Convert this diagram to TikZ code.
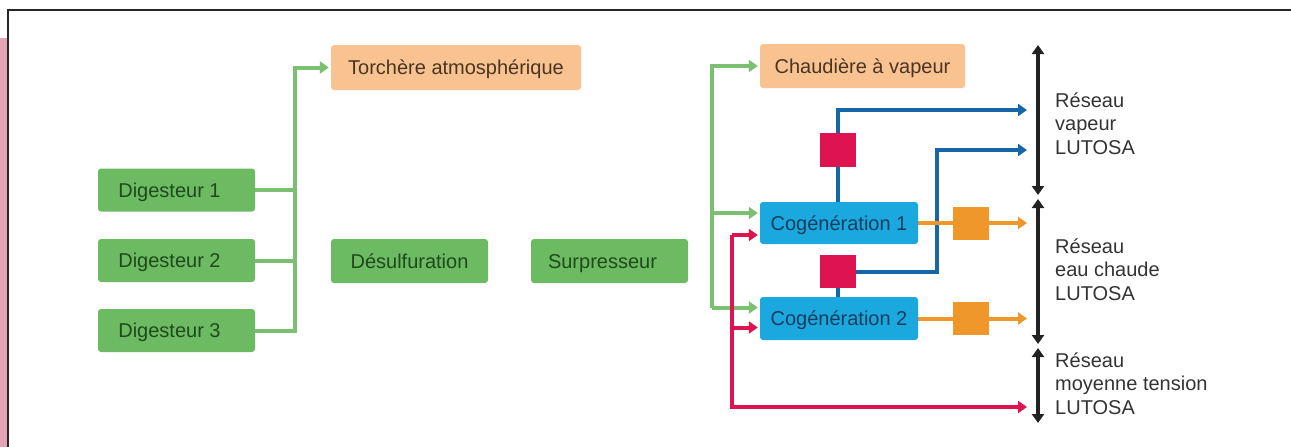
\documentclass[tikz,border=0pt]{standalone}
\usepackage{fontspec}
\setmainfont{Liberation Sans}
\usetikzlibrary{arrows.meta,backgrounds}
\definecolor{gfill}{HTML}{6CBA62}
\definecolor{gtext}{HTML}{1F4A1C}
\definecolor{ofill}{HTML}{F8C391}
\definecolor{otext}{HTML}{4A3422}
\definecolor{bfill}{HTML}{1BA8DF}
\definecolor{btext}{HTML}{123E5E}
\definecolor{glinec}{HTML}{7BBF70}
\definecolor{rlinec}{HTML}{DD1450}
\definecolor{blinec}{HTML}{1766A8}
\definecolor{olinec}{HTML}{F0972B}
\definecolor{pinkc}{HTML}{E2A6B4}
\definecolor{labc}{HTML}{333333}
\definecolor{kc}{HTML}{222222}
\tikzset{
  box/.style={rounded corners=3pt, minimum height=43pt, inner sep=0pt, text height=14.3pt, text depth=0pt, font=\fontsize{20}{24}\selectfont},
  gbox/.style={box, fill=gfill, text=gtext, minimum width=157pt},
  obox/.style={box, fill=ofill, text=otext},
  bbox/.style={box, fill=bfill, text=btext, minimum width=158pt},
  rsq/.style={fill=rlinec, minimum width=36pt, minimum height=34pt, inner sep=0pt},
  osq/.style={fill=olinec, minimum width=36pt, minimum height=33pt, inner sep=0pt},
  lab/.style={anchor=base west, inner sep=0pt, text=labc, font=\fontsize{20}{24}\selectfont},
  pipe/.style={line width=4pt},
  gpipe/.style={pipe, draw=glinec},
  rpipe/.style={pipe, draw=rlinec},
  bpipe/.style={pipe, draw=blinec},
  opipe/.style={pipe, draw=olinec},
  arr/.style={-{Triangle[length=9pt,width=12pt]}},
  kpipe/.style={line width=3.5pt, draw=kc, {Triangle[length=9pt,width=12pt]}-{Triangle[length=9pt,width=12pt]}}
}
\begin{document}
\begin{tikzpicture}[x=1pt,y=-1pt]
\useasboundingbox (0,0) rectangle (1291,447);
\fill[pinkc] (0,38) rectangle (6.5,447);
\draw[line width=2pt, color=black!85] (8,447) -- (8,10) -- (1291,10);

% boxes
\node[gbox] (d1) at (176.5,190) {Digesteur 1\kern14pt};
\node[gbox] (d2) at (176.5,260.5) {Digesteur 2\kern14pt};
\node[gbox] (d3) at (176.5,330.5) {Digesteur 3\kern14pt};
\node[obox, minimum width=250pt, minimum height=45pt] (torch) at (456,67.5) {Torchère atmosphérique};
\node[gbox, minimum height=44pt] (desulf) at (409.5,261) {Désulfuration};
\node[gbox, minimum height=44pt] (surp) at (609.5,261) {Surpresseur\kern14pt};
\node[obox, minimum width=205pt, minimum height=44pt] (chaud) at (862.5,66) {Chaudière à vapeur};
\node[bbox, minimum height=42pt] (cog1) at (839,223) {Cogénération 1};
\node[bbox] (cog2) at (839,318.5) {Cogénération 2};
\node[rsq] (sq1) at (838,150) {};
\node[rsq, minimum height=33pt] (sq2) at (838,271.5) {};
\node[osq] (osq1) at (971,223) {};
\node[osq] (osq2) at (971,318.5) {};

% coordinates
\coordinate (gx) at (295,0);
\coordinate (gx2) at (712,0);
\coordinate (rx) at (732,0);
\coordinate (bx) at (937,0);
\coordinate (oend) at (1027,0);
\coordinate (c1g) at ([yshift=10pt]cog1.west);
\coordinate (c2g) at ([yshift=11pt]cog2.west);
\coordinate (c1r) at ([yshift=-12pt]cog1.west);
\coordinate (c2r) at ([yshift=-9pt]cog2.west);
\coordinate (mtend) at (1027,407);
\coordinate (v1end) at (1027,110);
\coordinate (v2end) at (1027,150);
\coordinate (k1a) at (1038,45);
\coordinate (k1b) at (1038,195);
\coordinate (k2a) at (1038,199);
\coordinate (k2b) at (1038,344);
\coordinate (k3a) at (1038,348);
\coordinate (k3b) at (1038,423);

\begin{pgfonlayer}{background}
% green left
\draw[gpipe] (d1.east) -- (d1.east -| gx);
\draw[gpipe] (d2.east) -- (d2.east -| gx);
\draw[gpipe,arr] (d3.east) -- (d3.east -| gx) |- ([xshift=-2pt]torch.west);
% green right
\draw[gpipe,arr] (c2g -| gx2) |- ([xshift=-2pt]chaud.west);
\draw[gpipe,arr] (c2g -| gx2) -- ([xshift=-2pt]c2g);
\draw[gpipe,arr] (c1g -| gx2) -- ([xshift=-2pt]c1g);
% red
\draw[rpipe,arr] (c1r -| rx) |- (mtend);
\draw[rpipe,arr] (c1r -| rx) -- ([xshift=-2pt]c1r);
\draw[rpipe,arr] (c2r -| rx) -- ([xshift=-2pt]c2r);
% blue
\draw[bpipe,arr] (sq1 |- cog1.north) |- (v1end);
\draw[bpipe] (sq2 |- cog2.north) -- (sq2.south);
\draw[bpipe,arr] (sq2.east) -| (bx |- v2end) -- (v2end);
% orange
\draw[opipe,arr] (cog1.east) -- (cog1.east -| oend);
\draw[opipe,arr] (cog2.east) -- (cog2.east -| oend);
\end{pgfonlayer}

% black double arrows
\draw[kpipe] (k1a) -- (k1b);
\draw[kpipe] (k2a) -- (k2b);
\draw[kpipe] (k3a) -- (k3b);

% labels
\node[lab] (l1a) at (1055,107) {Réseau};
\node[lab] (l1b) at (1055,130.5) {vapeur};
\node[lab] (l1c) at (1055,154) {LUTOSA};
\node[lab] (l2a) at (1055,253) {Réseau};
\node[lab] (l2b) at (1055,276.5) {eau chaude};
\node[lab] (l2c) at (1055,300) {LUTOSA};
\node[lab] (l3a) at (1055,367) {Réseau};
\node[lab] (l3b) at (1055,390.5) {moyenne tension};
\node[lab] (l3c) at (1055,414) {LUTOSA};
\end{tikzpicture}
\end{document}
